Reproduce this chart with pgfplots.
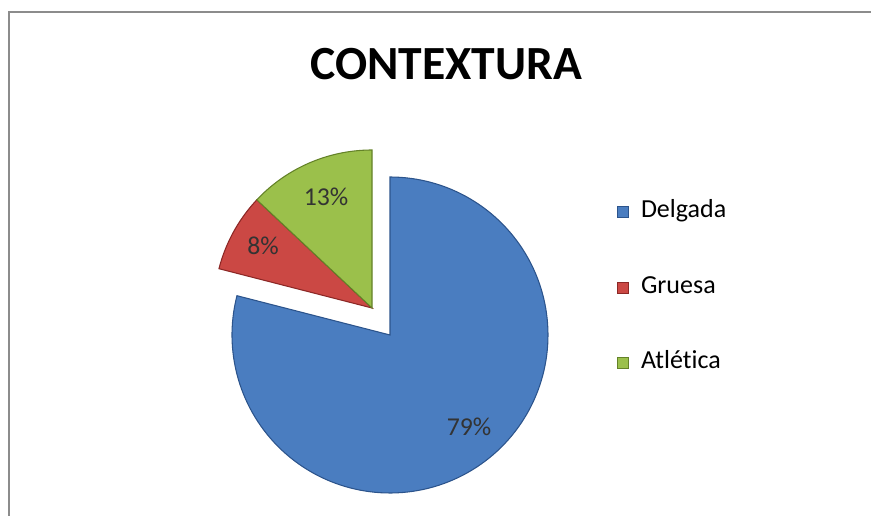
\documentclass[border=0pt]{standalone}
\usepackage{pgfplots}
\pgfplotsset{compat=1.18}
\usepackage{fontspec}
\setmainfont{Carlito}[Ligatures=NoCommon]
\definecolor{cblue}{RGB}{74,125,192}
\definecolor{cblueD}{RGB}{44,84,140}
\definecolor{cred}{RGB}{203,72,68}
\definecolor{credD}{RGB}{140,40,38}
\definecolor{cgreen}{RGB}{155,192,75}
\definecolor{cgreenD}{RGB}{100,130,40}
\begin{document}
\begin{tikzpicture}
% shares (percent)
\def\vDelgada{79}
\def\vGruesa{8}
\def\vAtletica{13}
\pgfmathsetmacro{\aA}{90-3.6*\vDelgada}
\pgfmathsetmacro{\aB}{\aA-3.6*\vGruesa}
\pgfmathsetmacro{\aC}{\aB-3.6*\vAtletica}
\begin{axis}[at={(0,0)}, anchor=south west, scale only axis,
  width=653.25pt, height=387pt,
  xmin=0, xmax=871, ymin=0, ymax=516, y dir=reverse,
  hide axis, clip=false, samples=150,
  legend style={at={(axis cs:617,210)}, anchor=north west, draw=none, fill=none,
    inner sep=0pt, font=\fontsize{19.5}{22}\selectfont,
    nodes={inner sep=0pt, text height=12pt, text depth=4pt},
    row sep=40.6pt, column sep=9pt, yshift=6.5pt},
  legend cell align=left]
\addplot[fill=cblue, draw=cblueD, line width=0.8pt, domain=\aA:90, variable=\t,
  legend image code/.code={\fill[cblue,draw=cblueD] (0pt,-4pt) rectangle (8pt,4pt);}]
  ({390+158*cos(t)},{335-158*sin(t)}) -- (390,335) -- cycle;
\addlegendentry{Delgada}
\addplot[fill=cred, draw=credD, line width=0.8pt, domain=\aB:\aA, variable=\t,
  legend image code/.code={\fill[cred,draw=credD] (0pt,-4pt) rectangle (8pt,4pt);}]
  ({372+158*cos(t)},{308-158*sin(t)}) -- (372,308) -- cycle;
\addlegendentry{Gruesa}
\addplot[fill=cgreen, draw=cgreenD, line width=0.8pt, domain=\aC:\aB, variable=\t,
  legend image code/.code={\fill[cgreen,draw=cgreenD] (0pt,-4pt) rectangle (8pt,4pt);}]
  ({372+158*cos(t)},{308-158*sin(t)}) -- (372,308) -- cycle;
\addlegendentry{Atlética}
\node[font=\fontsize{19.3}{22}\selectfont, text=black!80] at (axis cs:469,427) {79\%};
\node[font=\fontsize{19.3}{22}\selectfont, text=black!80] at (axis cs:263,246) {8\%};
\node[font=\fontsize{19.3}{22}\selectfont, text=black!80] at (axis cs:326,197) {13\%};
\node[font=\bfseries\fontsize{35.7}{40}\selectfont] at (axis cs:446,64) {CONTEXTURA};
\draw[gray!90, line width=2pt] (axis cs:9,540) -- (axis cs:9,12) -- (axis cs:890,12);
\end{axis}
\pgfresetboundingbox
\path (0,0) rectangle (653.25pt,387pt);
\end{tikzpicture}
\end{document}
